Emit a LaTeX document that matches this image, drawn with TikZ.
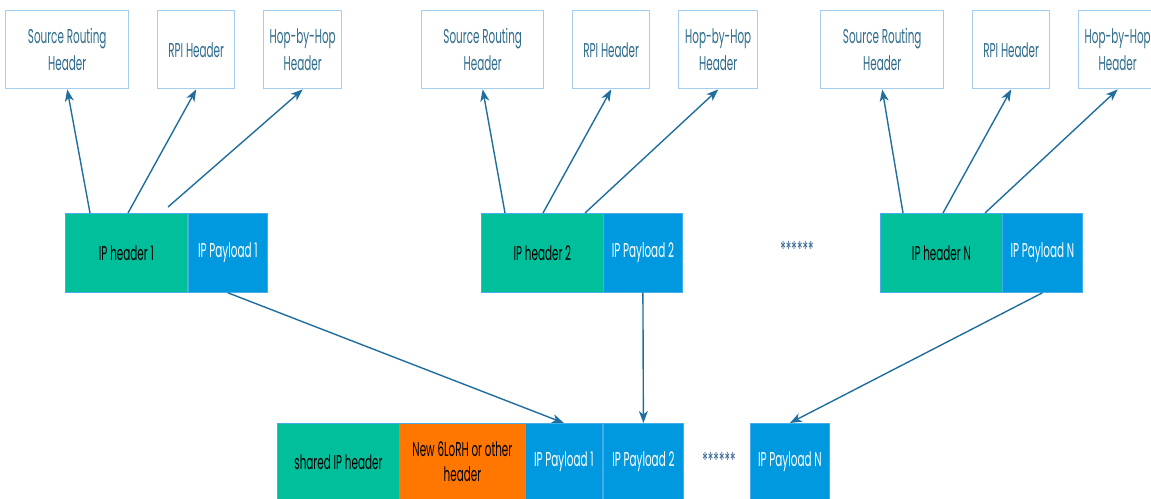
\documentclass[tikz,border=0pt]{standalone}
\usepackage{fontspec}
\setmainfont{Poppins}[FakeStretch=0.52]
\usetikzlibrary{arrows.meta}
\definecolor{hdrgreen}{HTML}{00BF9A}
\definecolor{payblue}{HTML}{0099E0}
\definecolor{loorange}{HTML}{FF7700}
\definecolor{edgeblue}{HTML}{A3CEF1}
\definecolor{rimblue}{HTML}{45AEEA}
\definecolor{arrowblue}{HTML}{1F6E9E}
\definecolor{labelteal}{HTML}{2D6C8C}
\definecolor{stardark}{HTML}{2E5F8C}
\begin{document}
\begin{tikzpicture}[x=1pt,y=-1pt,
  extbox/.style={draw=edgeblue, line width=1.4pt, fill=white, text=labelteal,
    align=center, inner sep=0pt, anchor=north west, minimum height=78pt,
    font=\fontsize{20}{27}\selectfont},
  cell/.style={draw=rimblue, line width=0.8pt, inner sep=0pt, anchor=north west,
    align=center, minimum height=79pt, font=\fontsize{20}{25}\selectfont},
  hdr/.style={cell, fill=hdrgreen, text=black, minimum width=122pt},
  pay/.style={cell, fill=payblue, text=white, minimum width=79pt},
  link/.style={draw=arrowblue, line width=1.4pt,
    -{Stealth[length=12pt,width=9pt,inset=3.5pt]}},
  stars/.style={text=stardark, font=\fontsize{22}{22}\selectfont, inner sep=0pt}]
\useasboundingbox (0,0) rectangle (1151,498);
\clip (0,0) rectangle (1151,498);

% extension headers above each packet
\node[extbox, minimum width=123pt] (sr1)  at (5,10)   {Source Routing\\Header};
\node[extbox, minimum width=77pt]  (rpi1) at (157,10) {RPI Header};
\node[extbox, minimum width=78pt]  (hbh1) at (263,10) {Hop-by-Hop\\Header};

\node[extbox, minimum width=122pt] (sr2)  at (421,10) {Source Routing\\Header};
\node[extbox, minimum width=77pt]  (rpi2) at (572,10) {RPI Header};
\node[extbox, minimum width=79pt]  (hbh2) at (678,10) {Hop-by-Hop\\Header};

\node[extbox, minimum width=123pt] (sr3)  at (820,10)  {Source Routing\\Header};
\node[extbox, minimum width=77pt]  (rpi3) at (972,10)  {RPI Header};
\node[extbox, minimum width=78pt]  (hbh3) at (1078,10) {Hop-by-Hop\\Header};

% individual IPv6 packets
\node[hdr] (h1) at (65,213)  {IP header 1};
\node[pay] (p1) at (188,213) {IP Payload 1};
\node[hdr] (h2) at (481,213) {IP header 2};
\node[pay] (p2) at (603,213) {IP Payload 2};
\node[stars] (dots1) at (797,249) {******};
\node[hdr] (h3) at (880,213)  {IP header N};
\node[pay, minimum width=80pt] (p3) at (1002,213) {IP Payload N};

% aggregated packet
\node[cell, fill=hdrgreen, text=black, minimum width=122pt, minimum height=77pt]
  (sh) at (277,423) {shared IP header};
\node[cell, fill=loorange, text=black, minimum width=126pt, minimum height=77pt]
  (lo) at (399,423) {New 6LoRH or other\\header};
\node[cell, fill=payblue, text=white, minimum width=77pt, minimum height=77pt]
  (b1) at (525,423) {IP Payload 1};
\node[cell, fill=payblue, text=white, minimum width=80pt, minimum height=77pt]
  (b2) at (603,423) {IP Payload 2};
\node[stars] (dots2) at (719,460) {******};
\node[cell, fill=payblue, text=white, minimum width=79pt, minimum height=77pt]
  (bn) at (750,423) {IP Payload N};

% headers pointing to their extension headers
\draw[link] ([xshift=25pt]h1.north west) -- (sr1.south);
\draw[link] ([xshift=63pt]h1.north west) -- (rpi1.south);
\draw[link] ([xshift=103pt,yshift=6pt]h1.north west) -- (hbh1.south);

\draw[link] ([xshift=24pt]h2.north west) -- (sr2.south);
\draw[link] ([xshift=62pt]h2.north west) -- (rpi2.south);
\draw[link] ([xshift=104pt]h2.north west) -- (hbh2.south);

\draw[link] ([xshift=23pt]h3.north west) -- (sr3.south);
\draw[link] ([xshift=63pt]h3.north west) -- (rpi3.south);
\draw[link] ([xshift=105pt]h3.north west) -- (hbh3.south);

% payloads gathered into the aggregated packet
\draw[link] (p1.south) -- (b1.north);
\draw[link] (p2.south) -- (b2.north);
\draw[link] (p3.south) -- (bn.north);
\end{tikzpicture}
\end{document}
